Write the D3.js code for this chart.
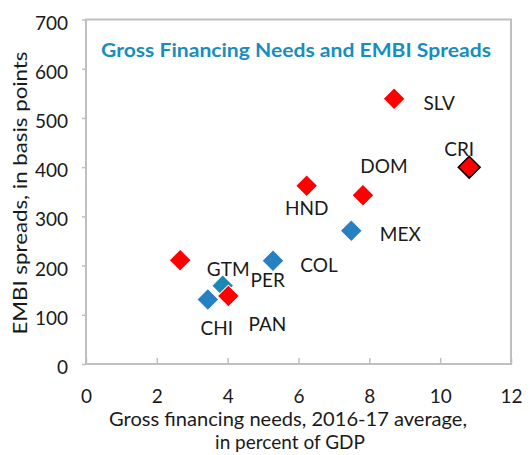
<!DOCTYPE html>
<html>
<head>
<meta charset="utf-8">
<script src="https://cdn.jsdelivr.net/npm/d3@7"></script>
<style>
  body { margin: 0; background: #fff; }
  text { font-family: Lato, "Open Sans", sans-serif; fill: #1a1a1a; }
</style>
</head>
<body>
<div id="chart"></div>
<script>
// data
var countries = ["SLV", "CRI", "DOM", "HND", "MEX", "COL", "GTM", "PER", "CHI", "PAN"];
var gfn =       [8.7,   10.82, 7.82,  6.23,  7.49,  5.28,  2.66, 3.86,  3.44,  4.02];
var embi =      [539,   400,   343,   362,   271,   210,   211,  159,   131,   138];
var group =     ["r",   "c",   "r",   "r",   "b",   "b",   "r",  "g",   "b",   "r"];
// label offsets (pixels) relative to the point
var labDx =     [45,    -10,   21,    0,     49,    46,    48,   45,    9,     39];
var labDy =     [11,    -11,   -22,   29,    10,    11,    16,   1,     35,    35];

var xTicks = [0, 2, 4, 6, 8, 10, 12];
var yTicks = [0, 100, 200, 300, 400, 500, 600, 700];

var W = 530, H = 455;
var margin = {top: 19.5, right: 19, bottom: 91, left: 86};
var w = W - margin.left - margin.right,
    h = H - margin.top - margin.bottom;

var svg = d3.select("#chart").append("svg")
  .attr("width", W).attr("height", H);

var g = svg.append("g").attr("transform", "translate(" + margin.left + "," + margin.top + ")");

var x = d3.scaleLinear().domain([0, 12]).range([0, w]);
var y = d3.scaleLinear().domain([0, 700]).range([h, 0]);

var gray = "#bfbfbf";

// frame
g.append("rect").attr("x", 0).attr("y", 0).attr("width", w).attr("height", h)
  .attr("fill", "none").attr("stroke", gray).attr("stroke-width", 2);

var xAxis = g.append("g").attr("transform", "translate(0," + h + ")")
  .call(d3.axisBottom(x).tickValues(xTicks).tickSize(-6).tickPadding(26));
xAxis.select(".domain").remove();
xAxis.selectAll(".tick line").attr("stroke", gray).attr("stroke-width", 1.5);
xAxis.selectAll(".tick text").style("font-size", "19px").attr("fill", "#1a1a1a");

var yAxis = g.append("g")
  .call(d3.axisLeft(y).tickValues(yTicks).tickSize(4).tickPadding(14));
yAxis.select(".domain").remove();
yAxis.selectAll(".tick line").attr("stroke", gray).attr("stroke-width", 1.5);
yAxis.selectAll(".tick text").style("font-size", "19px").attr("fill", "#1a1a1a").attr("dy", "0.5em");

var colors = {r: "#ff0000", c: "#ff0000", b: "#2680c2", g: "#1b88b3"};

var pts = d3.range(countries.length);

g.selectAll(".pt").data(pts).enter().append("path")
  .attr("class", "pt")
  .attr("transform", function(i) { return "translate(" + x(gfn[i]) + "," + y(embi[i]) + ") rotate(45)"; })
  .attr("d", d3.symbol().type(d3.symbolSquare).size(240))
  .attr("fill", function(i) { return colors[group[i]]; })
  .attr("stroke", function(i) { return group[i] == "c" ? "#000" : "#fff"; })
  .attr("stroke-width", function(i) { return group[i] == "c" ? 1.5 : 1; });

g.selectAll(".lab").data(pts).enter().append("text")
  .attr("class", "lab")
  .attr("x", function(i) { return x(gfn[i]) + labDx[i]; })
  .attr("y", function(i) { return y(embi[i]) + labDy[i]; })
  .attr("text-anchor", "middle")
  .style("font-size", "19px")
  .text(function(i) { return countries[i]; });

// title
g.append("text")
  .attr("x", 15).attr("y", 37)
  .attr("textLength", 390).attr("lengthAdjust", "spacingAndGlyphs")
  .style("font-size", "18px").style("font-weight", "bold")
  .style("fill", "#178ebd")
  .text("Gross Financing Needs and EMBI Spreads");

// axis titles
svg.append("text")
  .attr("transform", "translate(27,193) rotate(-90)")
  .attr("text-anchor", "middle")
  .attr("textLength", 283).attr("lengthAdjust", "spacingAndGlyphs")
  .style("font-size", "19px")
  .text("EMBI spreads, in basis points");

svg.append("text")
  .attr("x", 288).attr("y", 426)
  .attr("text-anchor", "middle")
  .attr("textLength", 358).attr("lengthAdjust", "spacingAndGlyphs")
  .style("font-size", "19px")
  .text("Gross financing needs, 2016-17 average,");
svg.append("text")
  .attr("x", 290).attr("y", 449)
  .attr("text-anchor", "middle")
  .style("font-size", "19px")
  .text("in percent of GDP");
</script>
</body>
</html>
